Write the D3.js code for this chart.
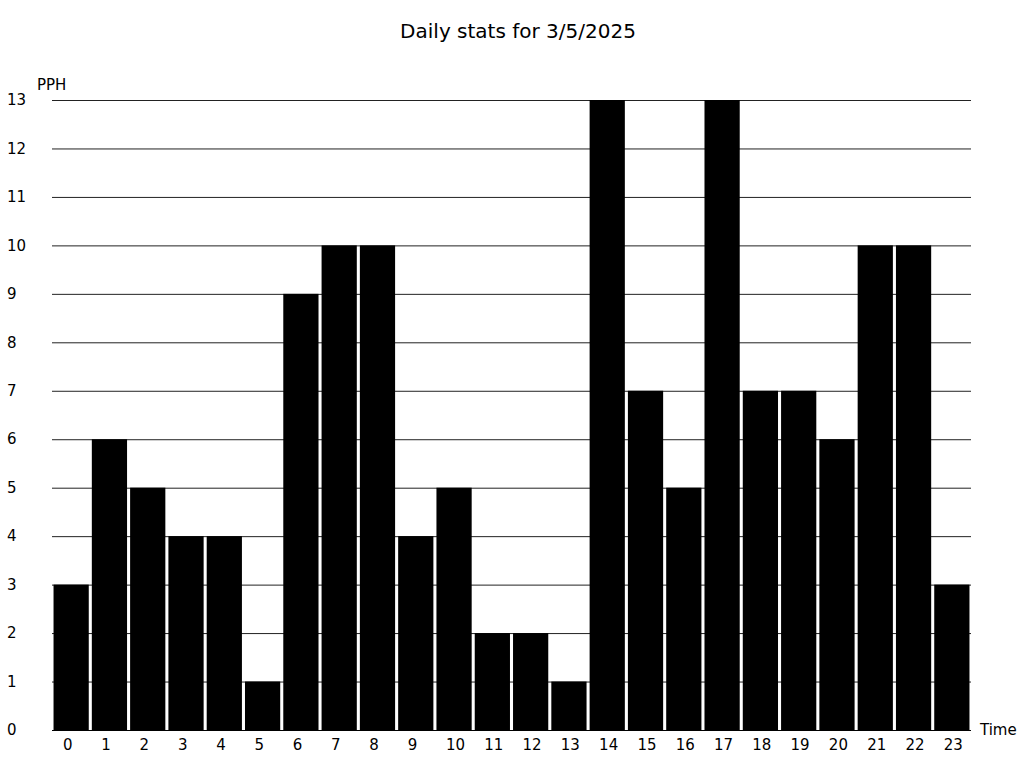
<!DOCTYPE html>
<html>
<head>
<meta charset="utf-8">
<script src="https://cdn.jsdelivr.net/npm/d3@7"></script>
<style>
  html, body { margin: 0; padding: 0; background: #fff; }
  svg { display: block; font-family: "DejaVu Sans", sans-serif; }
</style>
</head>
<body>
<svg id="chart" width="1024" height="768"></svg>
<script>
const hours = ["0","1","2","3","4","5","6","7","8","9","10","11","12","13","14","15","16","17","18","19","20","21","22","23"];
const pph = [3,6,5,4,4,1,9,10,10,4,5,2,2,1,13,7,5,13,7,7,6,10,10,3];
const yTicks = [0,1,2,3,4,5,6,7,8,9,10,11,12,13];
const title = "Daily stats for 3/5/2025";
const yLabel = "PPH";
const xLabel = "Time";

const svg = d3.select("#chart");
const plotLeft = 52, plotRight = 971, plotTop = 100, plotBottom = 730;

const x = d3.scaleBand().domain(hours).range([plotLeft, plotRight]).paddingInner(0.08).paddingOuter(0.04);
const y = d3.scaleLinear().domain([0, 13]).range([plotBottom, plotTop]);

// title
svg.append("text").attr("x", 518).attr("y", 38).attr("text-anchor", "middle")
  .attr("font-size", 20).attr("fill", "#000").text(title);

// gridlines
svg.append("g").selectAll("line").data(yTicks.filter(d => d > 0)).join("line")
  .attr("x1", plotLeft).attr("x2", plotRight)
  .attr("y1", d => y(d) + 0.5).attr("y2", d => y(d) + 0.5)
  .attr("stroke", "#222").attr("stroke-width", 1)
  .attr("shape-rendering", "geometricPrecision");

// y tick labels
svg.append("g").selectAll("text").data(yTicks).join("text")
  .attr("x", 7).attr("y", d => y(d)).attr("dy", "0.35em")
  .attr("font-size", 15).attr("fill", "#000").text(d => d);

// bars
svg.append("g").selectAll("rect").data(pph).join("rect")
  .attr("x", (d, i) => x(hours[i]))
  .attr("width", x.bandwidth())
  .attr("y", d => y(d))
  .attr("height", d => y(0) - y(d))
  .attr("fill", "#000");

// x axis line
svg.append("line").attr("x1", plotLeft).attr("x2", plotRight)
  .attr("y1", y(0) + 0.5).attr("y2", y(0) + 0.5).attr("stroke", "#000").attr("stroke-width", 1);

// x tick labels (left-aligned within each band)
svg.append("g").selectAll("text").data(hours).join("text")
  .attr("x", d => x(d) + 9.5).attr("y", 745).attr("dy", "0.35em")
  .attr("text-anchor", "start").attr("font-size", 15).attr("fill", "#000").text(d => d);

// axis labels
svg.append("text").attr("x", 980).attr("y", 730).attr("dy", "0.35em")
  .attr("font-size", 15).attr("fill", "#000").text(xLabel);
svg.append("text").attr("x", 37).attr("y", 85).attr("dy", "0.35em")
  .attr("font-size", 15).attr("fill", "#000").text(yLabel);
</script>
</body>
</html>
